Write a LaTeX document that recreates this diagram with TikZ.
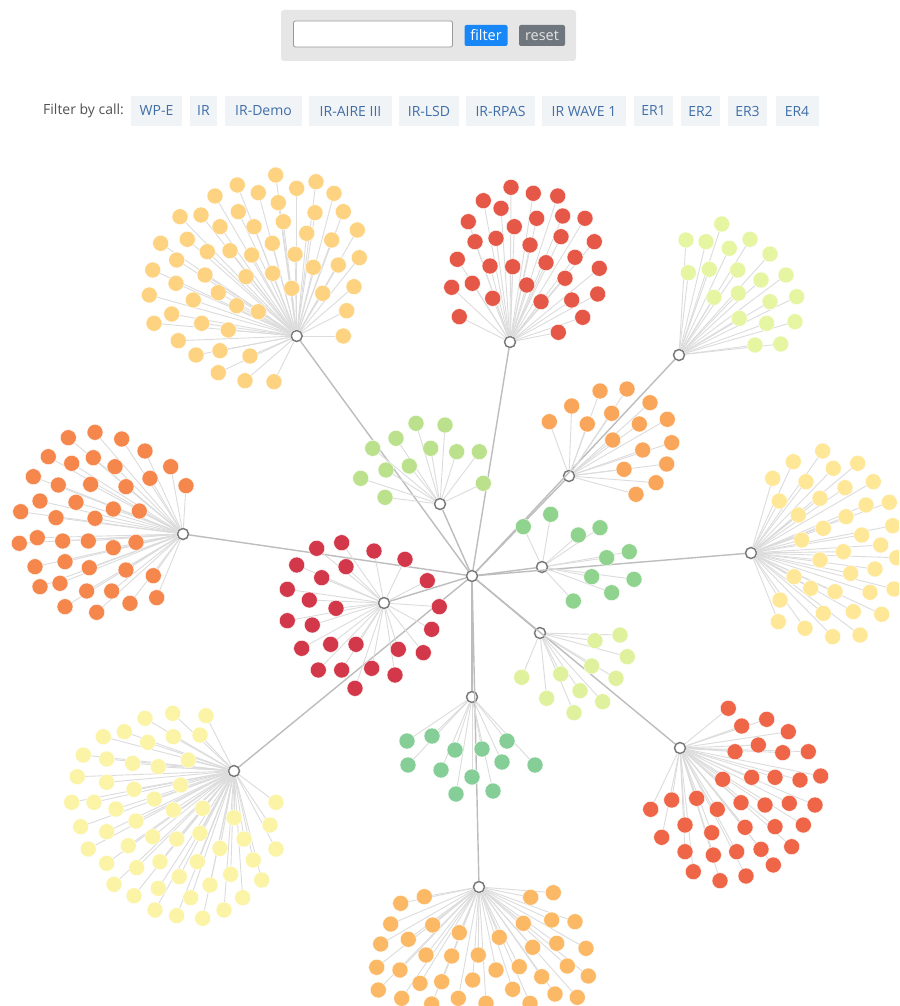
\documentclass[tikz,border=0pt]{standalone}
\usepackage{fontspec}
\setmainfont{Open Sans}
\definecolor{kA}{HTML}{FDD381}
\definecolor{kB}{HTML}{E55847}
\definecolor{kC}{HTML}{E6F5A1}
\definecolor{kD}{HTML}{F5874C}
\definecolor{kE}{HTML}{BBE18D}
\definecolor{kF}{HTML}{F9A65A}
\definecolor{kG}{HTML}{FEE797}
\definecolor{kH}{HTML}{90D38E}
\definecolor{kI}{HTML}{D3374A}
\definecolor{kJ}{HTML}{DFF19C}
\definecolor{kK}{HTML}{FBF4A6}
\definecolor{kL}{HTML}{85CE97}
\definecolor{kM}{HTML}{EF6547}
\definecolor{kN}{HTML}{FBB865}
\definecolor{hubgray}{HTML}{7A7A7A}
\definecolor{twiggray}{HTML}{DCDCDC}
\definecolor{trunkgray}{HTML}{BDBDBD}
\definecolor{btnbg}{HTML}{F1F4F7}
\definecolor{btntext}{HTML}{3F6EA6}
\definecolor{barbg}{HTML}{E6E6E6}
\definecolor{blueb}{HTML}{1787F7}
\definecolor{grayb}{HTML}{6F767D}
\tikzset{
  leaf/.style={circle,inner sep=0pt,minimum size=16pt,draw=white,line width=0.4pt},
  hub/.style={circle,inner sep=0pt,minimum size=11pt,fill=white,draw=hubgray,line width=1.5pt},
  twig/.style={draw=twiggray,line width=0.9pt},
  trunk/.style={draw=trunkgray,line width=1.4pt},
  btn/.style={rectangle,inner sep=0pt,minimum height=30pt,fill=btnbg,text=btntext,font=\fontsize{14}{16}\selectfont},
  smallbtn/.style={rectangle,rounded corners=2pt,inner sep=0pt,minimum height=21pt,font=\fontsize{14.5}{16}\selectfont},
}
\newcommand\leafset[3]{%
  \foreach \x/\y [count=\k] in {#3}{%
    \coordinate (#1-p\k) at (\x,\y);
    \draw[twig] (#1) -- (#1-p\k);
  }
  \foreach \x/\y [count=\k] in {#3}{%
    \node[leaf,fill=#2] (#1-\k) at (#1-p\k) {};
  }}
\begin{document}
\begin{tikzpicture}[x=1pt,y=-1pt]
\useasboundingbox (0,0) rectangle (899,1006);
\fill[white] (0,0) rectangle (899,1006);
\clip (0,0) rectangle (899,1006);
% top bar
\node[rectangle,rounded corners=3pt,fill=barbg,minimum width=295pt,minimum height=51pt,inner sep=0pt] (bar) at (428.5,35.5) {};
\node[rectangle,rounded corners=2pt,fill=white,draw=black!40,line width=0.8pt,minimum width=159pt,minimum height=26pt,inner sep=0pt] (input) at (373,34) {};
\node[smallbtn,fill=blueb,text=white,minimum width=43pt] (filterbtn) at (486,35.5) {filter};
\node[smallbtn,fill=grayb,text=black!10,minimum width=46pt] (resetbtn) at (542,35.5) {reset};
% filter row
\node[anchor=west,inner sep=0pt,text=black!68,font=\fontsize{14}{16}\selectfont] (flabel) at (43,111) {Filter by call:};
\node[btn,minimum width=51pt] (b1) at (156.5,111) {WP-E};
\node[btn,minimum width=27pt] (b2) at (203.5,111) {IR};
\node[btn,minimum width=77pt] (b3) at (263.5,111) {IR-Demo};
\node[btn,minimum width=83pt] (b4) at (350.5,111) {IR-AIRE III};
\node[btn,minimum width=60pt] (b5) at (429,111) {IR-LSD};
\node[btn,minimum width=69pt] (b6) at (500.5,111) {IR-RPAS};
\node[btn,minimum width=84pt] (b7) at (584,111) {IR WAVE 1};
\node[btn,minimum width=39pt] (b8) at (653.5,111) {ER1};
\node[btn,minimum width=39pt] (b9) at (700.5,111) {ER2};
\node[btn,minimum width=39pt] (b10) at (747.5,111) {ER3};
\node[btn,minimum width=43pt] (b11) at (797,111) {ER4};
% hubs
\node[hub] (c) at (472,576) {};
\node[hub] (hA) at (296.7,336) {};
\node[hub] (hB) at (510,342) {};
\node[hub] (hC) at (679,355) {};
\node[hub] (hD) at (183,534) {};
\node[hub] (hE) at (440,504) {};
\node[hub] (hF) at (569,476) {};
\node[hub] (hG) at (751,553) {};
\node[hub] (hH) at (542,567) {};
\node[hub] (hI) at (384,603) {};
\node[hub] (hJ) at (540,633) {};
\node[hub] (hK) at (234,771) {};
\node[hub] (hL) at (472,697) {};
\node[hub] (hM) at (680,748) {};
\node[hub] (hN) at (479,887) {};
\foreach \h in {hA,hB,hC,hD,hE,hF,hG,hH,hI,hJ,hK,hL,hM,hN}{\draw[trunk] (c) -- (\h);}
% clusters
\leafset{hA}{kA}{275.7/175, 237.3/185, 316/181.7, 296.7/188.3, 258.3/192.7, 215/196, 334/193.3, 278.3/202.7, 238.3/211.7, 315/212.7, 343.3/211.7, 180/216.7, 201/215, 283.3/221.7, 254/226.7, 220/226.7, 357.3/230, 306.7/233.3, 160.7/243.3, 187.3/239.3, 331.7/240, 272.3/243.3, 207.3/251.7, 230/250.7, 251.7/255, 295/254.3, 359.3/257.7, 176.7/260, 338.3/265, 313.3/267.3, 152.7/270, 272.7/273.3, 205/275, 246/276.7, 176/283.3, 291.7/288.3, 354/286.7, 322.7/293.3, 149.3/295, 218.3/292.7, 193.3/300, 236.7/305.7, 258.3/311.7, 346.7/310.7, 171.7/314, 154/323.3, 201.7/323.3, 228.3/330, 343.3/336, 178.3/340.7, 220/350.7, 250/356, 196/355, 218.3/372.7, 245/380.7, 274/381.7}
\leafset{hB}{kB}{511/187.3, 533.3/193.3, 557.7/196, 483.3/200.7, 501/208.3, 468.3/221.7, 536.7/218.3, 562.7/216, 585/218.3, 514.3/226.7, 475/241.7, 496/238.3, 530/245, 561/236.7, 594.3/241.7, 457.3/259.3, 490/266, 512.7/266.7, 546/262.7, 575/257.3, 599.3/268.3, 451.7/287.3, 472.3/283.3, 526.7/285, 565/278.3, 492.7/298.3, 541/301.7, 571.7/300, 597.7/294, 459.3/316.7, 582.7/317.3, 558.3/332.3}
\leafset{hC}{kC}{721.7/224, 686/240, 706/241.7, 750/239.3, 729.3/248.3, 770/254, 688.3/272.7, 709.3/269.3, 737.7/270, 786/275, 761/280, 714/297.3, 738.3/293.3, 770/301.7, 796.7/296.7, 739.3/318.3, 766.7/323.3, 795/321.7, 755/345, 780.7/344}
\leafset{hD}{kD}{95/432.3, 68.3/437.7, 121.7/439, 145/451, 48.3/456.7, 93.3/457.7, 71.7/463.3, 115/466.7, 170.7/466.7, 33.3/476.7, 150/478.3, 58.3/485, 90.7/484.3, 126/486.7, 186/485.7, 40/501, 76/502.3, 20.7/511.7, 113.3/509, 139.3/511, 56/517.7, 95/518.3, 37.3/537.7, 62.7/541, 88.3/541, 19.3/543.3, 113.3/547.7, 136/542.3, 65/561.7, 35/566.7, 89.3/567.7, 126/570, 153.3/575.7, 40/586.7, 60/583.3, 86.7/591, 111.7/591, 156.7/597.7, 65/606.7, 96.7/612.3, 130/603.3}
\leafset{hE}{kE}{416/423.3, 445/425, 396/438.3, 372.7/448.3, 430.7/448.3, 456.7/451.7, 479.3/451.7, 409.3/466, 386/470, 360.7/478.3, 483.3/483.3, 385/497.3}
\leafset{hF}{kF}{600/391, 627/389, 549.3/421.7, 571.7/406, 587.3/424, 611.7/413.3, 639.3/424, 650/402.7, 667.3/419.3, 612.7/440, 642.7/450, 671.7/442.7, 624/469.3, 666.7/464, 656/482.7, 636/494.3}
\leafset{hG}{kG}{822.7/451, 793.3/461.7, 833.3/468.3, 857.7/463.3, 772.7/478.3, 806/481.7, 873.3/481.7, 845/487.7, 779.3/501, 820/498.3, 866/505, 889.3/502.3, 798.3/515, 846/516.7, 892.7/525.7, 823.3/528.3, 861.7/535, 801.7/540, 880.7/545, 843.3/551.7, 820/560, 896.7/557.7, 794/576.7, 850.7/573.3, 875/569, 810.7/588.3, 835/591.7, 870/592.3, 894/589, 780/600, 823.3/613.3, 853.3/611.7, 881.7/614.3, 778.3/621.7, 805/628.3, 832.7/636.7, 860/635}
\leafset{hH}{kH}{523.3/526.7, 550.7/514.3, 578.3/535, 600/527.7, 606.7/557.7, 629.3/551.7, 591.7/576.7, 634/579.3, 611.7/592.7, 573.3/601}
\leafset{hI}{kI}{341.7/542.7, 316.7/548.3, 374/551, 405/559.3, 296.7/565, 346/566.7, 321.7/577.7, 427.3/580.7, 287.3/589.3, 309.3/600, 336/608.3, 439.3/606.7, 287.3/620.7, 312.3/625, 431.7/629.3, 301.7/648.3, 330.7/644.3, 356/644.3, 398.3/649.3, 423.3/652.7, 318.3/670, 341.7/670, 371.7/668.3, 395/675, 355/688.3}
\leafset{hJ}{kJ}{620/635, 595/640.7, 627.3/656.7, 591.7/666, 560.7/674, 521.7/677.3, 616/678.3, 580/690.7, 546.7/698.3, 602.7/701.7, 574/712.7}
\leafset{hK}{kK}{172.7/713.3, 145/718.3, 206/715.7, 103.3/736.7, 124.3/731.7, 147.7/742.3, 173.3/736.7, 200/735, 83.3/755, 106.7/759, 132.7/763.3, 158.3/766.7, 188.3/760, 77.3/776.7, 106.7/782.3, 134/789.3, 180.7/785, 71.7/802.3, 94/802.3, 116/809, 154.3/799, 173.3/810, 202.7/808.3, 276/802.3, 80.7/826.7, 136/821, 106.7/831.7, 234/817.7, 270/825, 88.3/849, 128.3/845.7, 152.7/836.7, 176.7/839, 200/833.3, 244/839, 220/848.3, 276/849, 106.7/863.3, 136.7/867.7, 160/861.7, 197.3/861.7, 253.3/860, 114/884.3, 179.3/876.7, 230.7/874.3, 134/895.7, 158.3/888.3, 210/885, 261.7/880, 155/910, 190.7/897.7, 242.7/897.7, 176.7/915.7, 202.7/918.3, 224/910}
\leafset{hL}{kL}{407/741, 432/736, 455/750, 482/749, 507/741, 408/765, 441/770, 472/777, 502/762, 535/765, 456/794, 493/791}
\leafset{hM}{kM}{728.3/708.3, 766.7/719.3, 741.7/726, 788.3/731.7, 758.3/745, 735/751.7, 782.7/752.7, 808.3/751.7, 722.7/779.3, 751.7/777.3, 775/777.3, 800/780, 820.7/776, 671.7/800, 696.7/798.3, 650.7/809.3, 717.3/809.3, 741/802.7, 765/805, 789.3/803.3, 815/805, 685/825, 711.7/832.7, 745/827.3, 775/826.7, 803.3/825, 661.7/837.3, 685/851.7, 713.3/855, 736.7/851.7, 761/849.3, 791.7/846.7, 693.3/871.7, 720/880.7, 746/876, 773.3/865}
\leafset{hN}{kN}{424.3/896.7, 400.7/903.3, 530.7/897.3, 553.3/892.7, 390.7/924, 432.7/925, 523.3/923.3, 551.7/920, 575/921.7, 380.7/944, 408.3/939.3, 459.3/932.7, 499.3/937.3, 532.7/947.3, 556.7/943.3, 586/948.3, 376.7/967.3, 400/970, 426/955, 451.7/956, 478.3/955, 496/970, 519.3/966.7, 541.7/976.7, 567.3/966, 588.3/976, 378.3/990, 420/983.3, 441.7/981.7, 472.7/980, 512.7/989.3, 555/994, 577.3/997.3, 401.7/998.3, 458.3/998.3, 486/1003.3, 530/1003.3, 431.7/1004}
\end{tikzpicture}
\end{document}
